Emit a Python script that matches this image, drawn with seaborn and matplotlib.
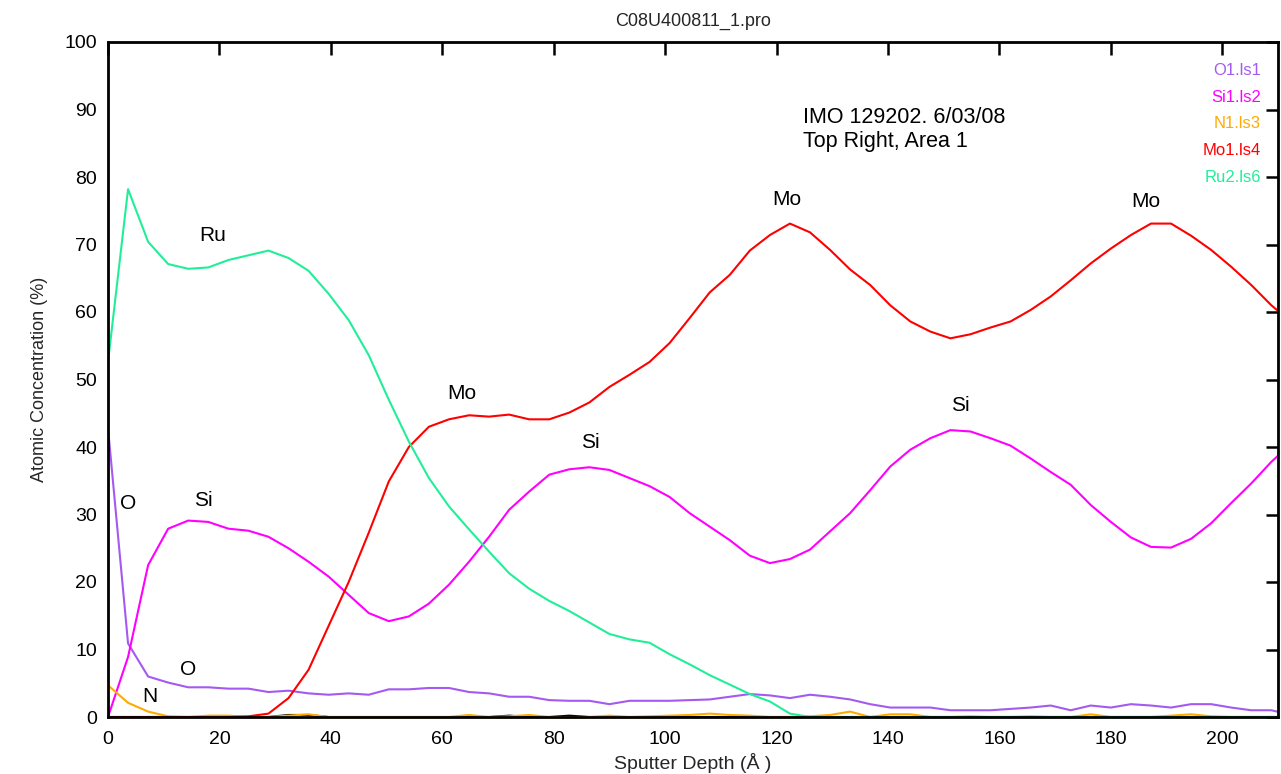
import numpy as np
import pandas as pd
import seaborn as sns
import matplotlib
matplotlib.use("Agg")
import matplotlib.pyplot as plt

# %% data (depth in Angstrom, atomic %)
depth = [0.0, 3.6, 7.2, 10.8, 14.4, 18.0, 21.6, 25.2, 28.8, 32.4,
         36.0, 39.6, 43.2, 46.8, 50.4, 54.0, 57.6, 61.2, 64.8, 68.4,
         72.0, 75.6, 79.2, 82.8, 86.4, 90.0, 93.6, 97.2, 100.8, 104.4,
         108.0, 111.6, 115.2, 118.8, 122.4, 126.0, 129.6, 133.2, 136.8, 140.4,
         144.0, 147.6, 151.2, 154.8, 158.4, 162.0, 165.6, 169.2, 172.8, 176.4,
         180.0, 183.6, 187.2, 190.8, 194.4, 198.0, 201.6, 205.2, 208.8, 212.4]

o1 = [42.8, 10.9, 6.0, 5.1, 4.4, 4.4, 4.2, 4.2, 3.7, 3.9,
      3.5, 3.3, 3.5, 3.3, 4.1, 4.1, 4.3, 4.3, 3.7, 3.5,
      3.0, 3.0, 2.5, 2.4, 2.4, 1.9, 2.4, 2.4, 2.4, 2.5,
      2.6, 3.0, 3.4, 3.2, 2.8, 3.3, 3.0, 2.6, 1.9, 1.4,
      1.4, 1.4, 1.0, 1.0, 1.0, 1.2, 1.4, 1.7, 1.0, 1.7,
      1.4, 1.9, 1.7, 1.4, 1.9, 1.9, 1.4, 1.0, 1.0, 0.3]

si1 = [0.0, 8.9, 22.5, 27.9, 29.1, 28.9, 27.9, 27.6, 26.7, 25.0,
       23.0, 20.8, 18.1, 15.4, 14.2, 14.9, 16.8, 19.6, 23.0, 26.7,
       30.7, 33.4, 35.9, 36.7, 37.0, 36.6, 35.4, 34.2, 32.6, 30.2,
       28.2, 26.2, 23.9, 22.8, 23.4, 24.8, 27.5, 30.2, 33.6, 37.1,
       39.6, 41.3, 42.5, 42.3, 41.3, 40.2, 38.3, 36.3, 34.4, 31.4,
       28.9, 26.6, 25.2, 25.1, 26.4, 28.7, 31.7, 34.6, 37.8, 40.5]

n1 = [4.7, 2.1, 0.8, 0.1, 0.0, 0.2, 0.2, 0.0, 0.0, 0.2,
      0.4, 0.0, 0.0, 0.0, 0.0, 0.0, 0.0, 0.0, 0.3, 0.0,
      0.1, 0.3, 0.0, 0.0, 0.0, 0.2, 0.0, 0.1, 0.2, 0.3,
      0.5, 0.3, 0.2, 0.0, 0.0, 0.1, 0.3, 0.8, 0.0, 0.4,
      0.4, 0.0, 0.0, 0.1, 0.0, 0.0, 0.1, 0.0, 0.0, 0.4,
      0.0, 0.0, 0.0, 0.2, 0.4, 0.1, 0.0, 0.0, 0.0, 0.0]

mo1 = [0.0, 0.0, 0.0, 0.0, 0.0, 0.0, 0.0, 0.1, 0.5, 2.8,
       7.0, 13.5, 20.0, 27.3, 34.9, 40.0, 43.0, 44.1, 44.7, 44.5,
       44.8, 44.1, 44.1, 45.1, 46.6, 48.9, 50.7, 52.6, 55.4, 59.1,
       62.9, 65.5, 69.1, 71.4, 73.1, 71.8, 69.2, 66.3, 64.0, 61.0,
       58.6, 57.1, 56.1, 56.7, 57.7, 58.6, 60.3, 62.3, 64.7, 67.2,
       69.4, 71.4, 73.1, 73.1, 71.3, 69.2, 66.7, 64.0, 61.0, 58.5]

ru2 = [52.6, 78.2, 70.4, 67.1, 66.4, 66.6, 67.7, 68.4, 69.1, 68.0,
       66.1, 62.7, 58.8, 53.6, 47.0, 40.8, 35.4, 31.2, 27.8, 24.5,
       21.3, 19.0, 17.2, 15.7, 14.0, 12.3, 11.5, 11.0, 9.3, 7.8,
       6.2, 4.8, 3.4, 2.3, 0.5, 0.0, 0.0, 0.0, 0.0, 0.0,
       0.0, 0.0, 0.0, 0.0, 0.0, 0.0, 0.0, 0.0, 0.0, 0.0,
       0.0, 0.0, 0.0, 0.0, 0.0, 0.0, 0.0, 0.0, 0.0, 0.0]

# unlisted trace that hugs the baseline
other = [0.0] * 9 + [0.3, 0.3] + [0.0] * 9 + [0.2, 0.0, 0.0, 0.2] + [0.0] * 36

series_names = ["other", "O1.ls1", "Si1.ls2", "N1.ls3", "Mo1.ls4", "Ru2.ls6"]
colors = {"other": "#000000", "O1.ls1": "#a45af0", "Si1.ls2": "#ff00ff",
          "N1.ls3": "#ffaa00", "Mo1.ls4": "#ff0000", "Ru2.ls6": "#22ee99"}

peak_labels = ["Ru", "O", "Si", "O", "N", "Mo", "Si", "Mo", "Si", "Mo"]
peak_x = [18.8, 3.6, 17.1, 14.4, 7.5, 63.5, 86.5, 121.9, 152.9, 186.3]
peak_y = [71.3, 31.6, 32.1, 7.1, 3.1, 47.9, 40.6, 76.7, 46.1, 76.4]

x_ticks = list(range(0, 201, 20))
y_ticks = list(range(0, 101, 10))

# %% long form table
values = [other, o1, si1, n1, mo1, ru2]
df = pd.concat([pd.DataFrame({"depth": depth, "conc": v, "element": name})
                for name, v in zip(series_names, values)], ignore_index=True)

# %% plot
sns.set_theme(style="white")
plt.rcParams['font.family'] = ['Liberation Sans', 'DejaVu Sans']

fig = plt.figure(figsize=(12.81, 7.74), dpi=100)
ax = fig.add_axes([108 / 1281, 1 - 717 / 774, 1170 / 1281, 675 / 774])

sns.lineplot(data=df, x="depth", y="conc", hue="element", hue_order=series_names,
             palette=colors, linewidth=1.5, legend=False, ax=ax, sort=False)

ax.set_xlim(0, 210)
ax.set_ylim(0, 100)
ax.set_xticks(x_ticks)
ax.set_yticks(y_ticks)
ax.tick_params(axis="both", direction="in", length=9, width=1.8, colors="black",
               labelsize=14, top=True, right=True, pad=8)
ax.tick_params(axis="x", pad=10)
for side in ax.spines.values():
    side.set_color("black")
    side.set_linewidth(2)

ax.set_title("C08U400811_1.pro", fontsize=13, pad=12)
ax.set_xlabel("Sputter Depth (Å )", fontsize=14, labelpad=4)
ax.set_ylabel("Atomic Concentration (%)", fontsize=13, labelpad=12)

# peak labels
for lab, px, py in zip(peak_labels, peak_x, peak_y):
    ax.text(px, py, lab, fontsize=15, ha="center", va="center", color="black")

# sample note
ax.text(0.594, 0.87, "IMO 129202. 6/03/08\nTop Right, Area 1", transform=ax.transAxes,
        fontsize=15.5, ha="left", va="center", linespacing=1.2, color="black")

# legend as coloured text, right aligned
for k, name in enumerate(series_names[1:]):
    ax.text(0.9855, 0.958 - k * 0.0395, name, transform=ax.transAxes,
            fontsize=12, ha="right", va="center", color=colors[name])

fig.savefig("out.png", dpi=100)
